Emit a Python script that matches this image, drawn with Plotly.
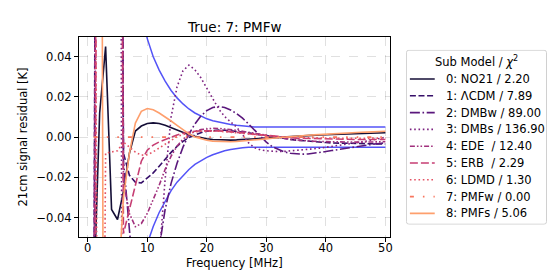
import plotly.graph_objects as go

# ---------------- data ----------------
freq = list(range(1, 51))

no21 = [-0.080, 0.012, 0.045, -0.036, -0.041, -0.027, -0.008, 0.003, 0.0055, 0.0068,
        0.0071, 0.0068, 0.0059, 0.0047, 0.0034, 0.0022, 0.0012, 0.0004, -0.0003, -0.0008,
        -0.0012, -0.0014, -0.0015, -0.0015, -0.0014, -0.0012, -0.0010, -0.0008, -0.0006, -0.0004,
        -0.0002, 0.0000, 0.0002, 0.0004, 0.0005, 0.0007, 0.0008, 0.0009, 0.0011, 0.0012,
        0.0013, 0.0014, 0.0015, 0.0016, 0.0017, 0.0018, 0.0019, 0.0020, 0.0021, 0.0022]

lcdm = [-0.15, 0.9, 1.2, 1.0, 0.5, -0.008, -0.019, -0.0225, -0.0228, -0.0205,
        -0.0178, -0.0145, -0.0110, -0.0076, -0.0046, -0.0021, -0.0002, 0.0012, 0.0022, 0.0029,
        0.0033, 0.0035, 0.0034, 0.0032, 0.0029, 0.0025, 0.0021, 0.0016, 0.0011, 0.0006,
        0.0002, -0.0003, -0.0007, -0.0011, -0.0015, -0.0018, -0.0021, -0.0023, -0.0025, -0.0027,
        -0.0029, -0.0030, -0.0031, -0.0032, -0.0033, -0.0033, -0.0034, -0.0034, -0.0034, -0.0034]

dmbw = [-0.2, 1.0, 1.5, 1.3, 0.7, -0.012, -0.046, -0.10, -0.14, -0.15,
        -0.11, -0.055, -0.036, -0.023, -0.013, -0.005, 0.0015, 0.0065, 0.0105, 0.0132,
        0.0147, 0.0152, 0.0147, 0.0135, 0.0117, 0.0094, 0.0066, 0.0035, 0.0003, -0.0025,
        -0.0048, -0.0063, -0.0074, -0.0080, -0.0084, -0.0085, -0.0084, -0.0081, -0.0077, -0.0072,
        -0.0067, -0.0062, -0.0057, -0.0052, -0.0047, -0.0043, -0.0039, -0.0035, -0.0032, -0.0029]

dmbs = [-0.25, 0.8, 1.2, 1.1, 0.8, -0.4, -0.5, -0.45, -0.35, -0.25,
        -0.16, -0.06, -0.021, 0.010, 0.025, 0.033, 0.0358, 0.0335, 0.0295, 0.0245,
        0.0190, 0.0140, 0.0102, 0.0075, 0.0050, 0.0012, -0.0028, -0.0052, -0.0063, -0.0068,
        -0.0071, -0.0072, -0.0071, -0.0069, -0.0067, -0.0064, -0.0061, -0.0058, -0.0055, -0.0051,
        -0.0047, -0.0043, -0.0039, -0.0034, -0.0029, -0.0024, -0.0019, -0.0013, -0.0007, -0.0001]

ede = [-0.12, 0.7, 1.0, 0.9, 0.6, -0.022, -0.038, -0.0446, -0.0430, -0.0380,
       -0.0310, -0.0240, -0.0160, -0.0095, -0.0045, -0.0010, 0.0013, 0.0028, 0.0037, 0.0042,
       0.0044, 0.0043, 0.0041, 0.0038, 0.0034, 0.0029, 0.0024, 0.0018, 0.0012, 0.0007,
       0.0002, -0.0003, -0.0007, -0.0011, -0.0014, -0.0017, -0.0019, -0.0021, -0.0022, -0.0023,
       -0.0024, -0.0024, -0.0025, -0.0025, -0.0025, -0.0025, -0.0024, -0.0024, -0.0023, -0.0023]

erb = [-0.3, 0.6, 0.9, 0.8, 0.5, -0.048, -0.036, -0.024, -0.012, -0.0065,
       -0.0040, -0.0024, -0.0011, 0.0001, 0.0011, 0.0019, 0.0025, 0.0029, 0.0031, 0.0032,
       0.0032, 0.0031, 0.0029, 0.0027, 0.0024, 0.0021, 0.0017, 0.0014, 0.0010, 0.0007,
       0.0004, 0.0001, -0.0001, -0.0003, -0.0005, -0.0006, -0.0007, -0.0008, -0.0009, -0.0010,
       -0.0010, -0.0011, -0.0011, -0.0011, -0.0012, -0.0012, -0.0012, -0.0012, -0.0012, -0.0012]

ldmd = [0.3, -0.4, -0.008, -0.0075, -0.0068, -0.0025, -0.0050, -0.0075, -0.0090, -0.0088,
        -0.0073, -0.0054, -0.0033, -0.0014, 0.0002, 0.0013, 0.0021, 0.0026, 0.0029, 0.0030,
        0.0030, 0.0029, 0.0027, 0.0025, 0.0022, 0.0019, 0.0016, 0.0013, 0.0010, 0.0007,
        0.0005, 0.0003, 0.0001, -0.0001, -0.0002, -0.0003, -0.0004, -0.0005, -0.0005, -0.0006,
        -0.0006, -0.0006, -0.0006, -0.0006, -0.0006, -0.0006, -0.0006, -0.0005, -0.0005, -0.0005]

pmfw = [0.0] * 50

pmfs = [0.3, 0.5, -0.5, -0.3, -0.08, -0.030, -0.008, 0.0070, 0.0128, 0.0142,
        0.0136, 0.0120, 0.0101, 0.0080, 0.0058, 0.0036, 0.0016, 0.0001, -0.0009, -0.0016,
        -0.0020, -0.0022, -0.0023, -0.0023, -0.0022, -0.0020, -0.0018, -0.0015, -0.0012, -0.0009,
        -0.0006, -0.0003, 0.0000, 0.0003, 0.0005, 0.0007, 0.0009, 0.0011, 0.0013, 0.0015,
        0.0017, 0.0018, 0.0020, 0.0021, 0.0023, 0.0024, 0.0025, 0.0027, 0.0028, 0.0029]

err_upper = [1.2, 0.6, 0.4, 0.28, 0.2, 0.15, 0.11, 0.082, 0.062, 0.049,
             0.040, 0.0333, 0.0278, 0.0232, 0.0195, 0.0165, 0.0140, 0.0120, 0.0104, 0.0091,
             0.0081, 0.0074, 0.0068, 0.0063, 0.0059, 0.0055, 0.0052] + [0.0050] * 23

err_lower = [-1.2, -0.6, -0.4, -0.28, -0.2, -0.15, -0.115, -0.088, -0.067, -0.053,
             -0.0445, -0.0375, -0.0318, -0.0266, -0.0224, -0.0190, -0.0161, -0.0136, -0.0117, -0.0101,
             -0.0088, -0.0077, -0.0068, -0.0062, -0.0057, -0.0053, -0.0051] + [-0.0050] * 23

labels = ["0: NO21 / 2.20", "1: ΛCDM / 7.89", "2: DMBw / 89.00", "3: DMBs / 136.90",
          "4: EDE\u00a0 / 12.40", "5: ERB\u00a0 / 2.29", "6: LDMD / 1.30", "7: PMFw / 0.00",
          "8: PMFs / 5.06"]
legend_title = "Sub Model / <i>χ</i><sup>2</sup>"
x_ticks = [0, 10, 20, 30, 40, 50]
y_ticks = [-0.04, -0.02, 0, 0.02, 0.04]

series = [no21, lcdm, dmbw, dmbs, ede, erb, ldmd, pmfw, pmfs]
colors = ["#140e36", "#360f69", "#5a177c", "#7d2381", "#a1307d",
          "#c63e73", "#e45365", "#f8765e", "#fe9f6d"]
dashes = ["solid", "6px,2.6px", "10px,2.6px,1.6px,2.6px", "1.6px,2.7px",
          "5px,2px,1.6px,2px,1.6px,2px", "8px,3px", "1.6px,2.7px",
          "4px,9px,1.6px,9px,1.6px,9px", "solid"]

FONT = "DejaVu Sans"
W, H = 556, 278
ML, MR, MT, MB = 71, 11, 29, 49
PW = W - ML - MR              # 474 px drawing width
PH = H - MT - MB              # 200 px drawing height
MAIN_W = 313                  # main panel width in px

fig = go.Figure()

# error envelope
for ys in (err_upper, err_lower):
    fig.add_trace(go.Scatter(x=freq, y=ys, mode="lines", showlegend=False,
                             line=dict(color="rgba(40,40,245,0.8)", width=1.5),
                             hoverinfo="skip"))

# residual curves
for lab, ys, col, ds in zip(labels, series, colors, dashes):
    fig.add_trace(go.Scatter(x=freq, y=ys, mode="lines", name=lab, showlegend=False,
                             line=dict(color=col, width=1.6, dash=ds)))

# ---- legend panel (own axes, 1 unit = 1 px) ----
LX0, LX1, LY0, LY1 = 400, 542, 41.7, 216.7
item_y0, item_dy = 71.0, 16.8
for i, (lab, col, ds) in enumerate(zip(labels, colors, dashes)):
    yy = item_y0 + i * item_dy
    fig.add_trace(go.Scatter(x=[404, 429], y=[yy, yy], xaxis="x2", yaxis="y2",
                             mode="lines", showlegend=False, hoverinfo="skip",
                             line=dict(color=col, width=1.6, dash=ds)))
    fig.add_annotation(x=438, y=yy, xref="x2", yref="y2", text=lab, showarrow=False,
                       xanchor="left", yanchor="middle",
                       font=dict(family=FONT, size=11.5, color="black"))
fig.add_annotation(x=(LX0 + LX1) / 2, y=53.5, xref="x2", yref="y2", text=legend_title,
                   showarrow=False, xanchor="center", yanchor="middle",
                   font=dict(family=FONT, size=11.5, color="black"))
r = 2.5
a0, a1, b0, b1 = LX0 + 0.5, LX1 - 0.5, LY0 + 0.5, LY1 - 0.5
path = (f"M{a0+r},{b0} L{a1-r},{b0} Q{a1},{b0} {a1},{b0+r} L{a1},{b1-r} "
        f"Q{a1},{b1} {a1-r},{b1} L{a0+r},{b1} Q{a0},{b1} {a0},{b1-r} "
        f"L{a0},{b0+r} Q{a0},{b0} {a0+r},{b0} Z")
fig.add_shape(type="path", path=path, xref="x2", yref="y2",
              line=dict(color="#d0d0d0", width=1), fillcolor="white", layer="below")

# chart title and x-axis title placed exactly relative to the main panel
fig.add_annotation(x=(MAIN_W / 2) / PW, y=1 + (MT - 19) / PH, xref="paper", yref="paper",
                   text="True: 7: PMFw", showarrow=False, xanchor="center", yanchor="middle",
                   font=dict(family=FONT, size=13.5, color="black"))
fig.add_annotation(x=(MAIN_W / 2) / PW, y=-(255 - (H - MB)) / PH, xref="paper", yref="paper",
                   text="Frequency [MHz]", showarrow=False, xanchor="center", yanchor="middle",
                   font=dict(family=FONT, size=11.5, color="black"))

axis_common = dict(showline=True, linecolor="black", linewidth=1, mirror=True,
                   ticks="outside", ticklen=4, tickwidth=1, tickcolor="black",
                   showgrid=True, gridcolor="rgba(0,0,0,0.12)", gridwidth=0.8,
                   griddash="dash", zeroline=False,
                   tickfont=dict(family=FONT, size=11.5, color="black"))

fig.update_layout(
    width=W, height=H,
    margin=dict(l=ML, r=MR, t=MT, b=MB),
    paper_bgcolor="white", plot_bgcolor="white",
    font=dict(family=FONT, size=11.5, color="black"),
    xaxis=dict(domain=[0, MAIN_W / PW], range=[-1.47, 50.78], tickvals=x_ticks,
               ticklabelstandoff=-4, **axis_common),
    yaxis=dict(range=[-0.0497, 0.0498], tickvals=y_ticks, tickformat=".2f",
               title=dict(text="21cm signal residual [K]", standoff=6,
                          font=dict(family=FONT, size=11.5)),
               **axis_common),
    xaxis2=dict(domain=[(LX0 - ML) / PW, (LX1 - ML) / PW], range=[LX0, LX1],
                visible=False, anchor="y2", fixedrange=True),
    yaxis2=dict(domain=[(H - MB - LY1) / PH, (H - MB - LY0) / PH],
                range=[LY1, LY0], visible=False, anchor="x2", fixedrange=True),
    showlegend=False,
)

fig.write_html("out.html")
